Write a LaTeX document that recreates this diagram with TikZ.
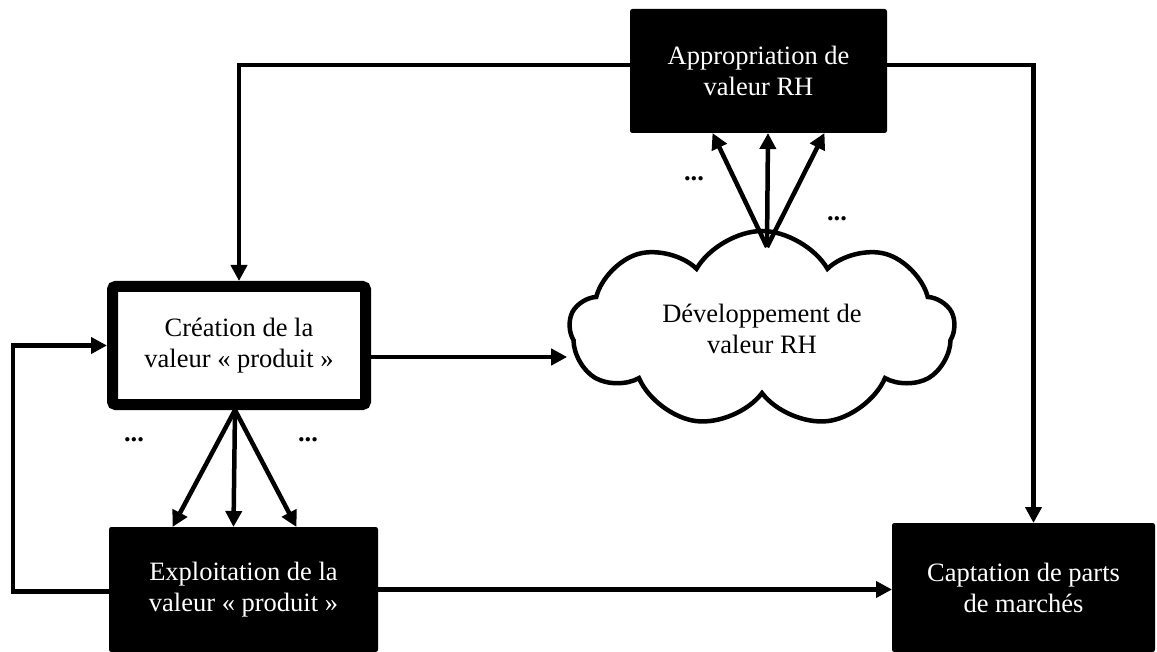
\documentclass[tikz,border=0pt]{standalone}
\usepackage{fontspec}
\setmainfont{Liberation Serif}
\usetikzlibrary{arrows.meta,shapes.symbols,calc}
\begin{document}
\begin{tikzpicture}[x=1pt,y=-1pt,
  blackbox/.style={draw=black,fill=black,text=white,rounded corners=2pt,line width=1pt,
    align=center,font=\fontsize{26.5}{31}\selectfont,inner sep=0pt},
  thickbox/.style={draw=black,fill=white,line width=11pt,rounded corners=3pt,
    align=center,font=\fontsize{26.5}{31}\selectfont,inner sep=0pt},
  cloudbox/.style={cloud,cloud puffs=9,cloud puff arc=120,cloud ignores aspect,
    draw=black,fill=white,line width=4.5pt,align=center,
    font=\fontsize{26.5}{31}\selectfont,inner sep=0pt},
  conn/.style={line width=4.5pt,-{Triangle[length=16pt,width=16pt]}},
  dotlabel/.style={font=\fontsize{26.5}{31}\selectfont\bfseries,anchor=base,inner sep=0pt}
]
\useasboundingbox (0,0) rectangle (1157,652);

\node[blackbox,minimum width=256pt,minimum height=123pt] (top) at (758.5,71)
  {Appropriation de\\valeur RH};
\node[thickbox,minimum width=253pt,minimum height=118pt] (crea) at (239,345.5)
  {Création de la\\valeur « produit »};
\node[blackbox,minimum width=268pt,minimum height=124pt] (exp) at (243.5,589.5)
  {Exploitation de la\\valeur « produit »};
\node[blackbox,minimum width=262pt,minimum height=128pt] (capt) at (1023.5,587.5)
  {Captation de parts\\de marchés};
\node[cloudbox,minimum width=385pt,minimum height=196pt] (cloudn) at (762,329)
  {Développement de\\valeur RH};

\coordinate (tl) at (630,65);
\coordinate (tr) at (887,65);
\coordinate (cfan) at (767,247);
\coordinate (cr) at (371,357);

% top box to creation and captation
\draw[conn] (tl) -| (crea.north);
\draw[conn] (tr) -| ([xshift=10pt]capt.north);

% creation to cloud
\draw[conn] (cr) -- (cloudn.west |- cr);

% fan creation -> exploitation
\draw[conn] ([xshift=-4pt]crea.south) -- ([xshift=-71pt]exp.north);
\draw[conn] ([xshift=-4pt]crea.south) -- ([xshift=-10pt]exp.north);
\draw[conn] ([xshift=-4pt]crea.south) -- ([xshift=53pt]exp.north);

% fan cloud -> top
\draw[conn] (cfan) -- ([xshift=-46pt]top.south);
\draw[conn] (cfan) -- ([xshift=9.5pt]top.south);
\draw[conn] (cfan) -- ([xshift=66pt]top.south);

% exploitation -> captation
\draw[conn] (exp.east) -- (capt.west |- exp.east);

% feedback loop
\draw[conn] ([yshift=-2pt]exp.west) -- ++(-96,0) |- (crea.west);

% dots
\node[dotlabel] (d1) at (134,441) {...};
\node[dotlabel] (d2) at (308,441) {...};
\node[dotlabel] (d3) at (694,181) {...};
\node[dotlabel] (d4) at (837,221) {...};
\end{tikzpicture}
\end{document}
